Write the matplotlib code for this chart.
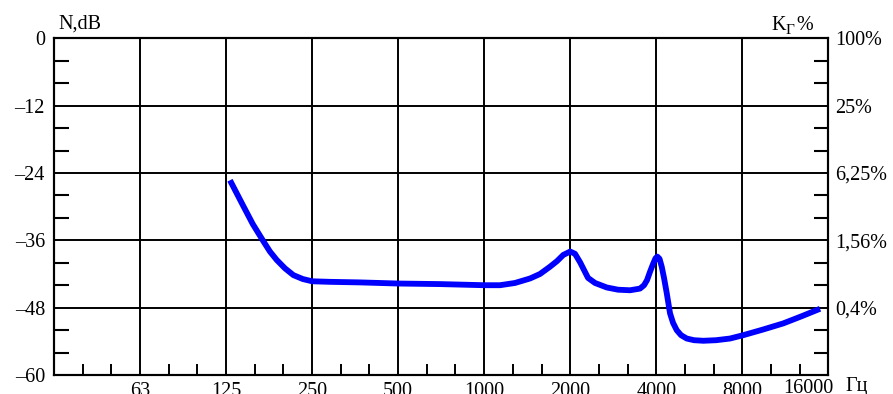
import matplotlib
matplotlib.use("Agg")
import matplotlib.pyplot as plt
import matplotlib.transforms as mtransforms
from matplotlib.ticker import FixedLocator, NullFormatter

plt.rcParams["font.family"] = ["Liberation Serif", "DejaVu Serif"]
plt.rcParams["font.size"] = 14.5

# octave centres (nominal labels) and the y scales
octaves = [62.5, 125, 250, 500, 1000, 2000, 4000, 8000, 16000]
octave_labels = ["63", "125", "250", "500", "1000", "2000", "4000", "8000", "16000"]
db_ticks = [0, -12, -24, -36, -48, -60]
db_labels = ["0", "\u201312", "\u201324", "\u201336", "\u201348", "\u201360"]
kg_ticks = [0, -12, -24, -36, -48]
kg_labels = ["100%", "25%", "6,25%", "1,56%", "0,4%"]

# curve: frequency (Hz) and level (dB)
freq = [129, 143, 155, 169, 178, 188, 201, 215, 232, 250, 289, 368, 500, 701,
        1000, 1136, 1282, 1447, 1568, 1700, 1799, 1892, 2000, 2079, 2165, 2236,
        2309, 2443, 2684, 2940, 3239, 3510, 3626, 3714, 3805, 3907, 3977, 4035,
        4108, 4181, 4259, 4353, 4470, 4580, 4717, 4884, 5114, 5424, 5846, 6476,
        7249, 8069, 9455, 11137, 12949, 14969]
level = [-25.3, -29.7, -33.1, -36.2, -38.0, -39.5, -41.0, -42.2, -42.9, -43.3,
         -43.4, -43.5, -43.7, -43.8, -44.0, -44.0, -43.6, -42.8, -42.0, -40.7,
         -39.7, -38.6, -38.0, -38.4, -39.9, -41.3, -42.7, -43.6, -44.4, -44.8,
         -44.9, -44.6, -44.0, -43.1, -41.6, -40.1, -39.2, -38.9, -39.3, -40.7,
         -42.7, -45.4, -49.0, -50.7, -52.0, -52.9, -53.5, -53.8, -53.9, -53.8,
         -53.5, -52.9, -51.9, -50.8, -49.5, -48.2]

fig = plt.figure(figsize=(8.93, 3.94), dpi=100)
ax = fig.add_axes([54 / 893, 1 - 375 / 394, (828.3 - 54) / 893, (375 - 38.3) / 394])

ax.plot(freq, level, color="#0000ff", lw=4.2, solid_capstyle="butt",
        solid_joinstyle="round", zorder=3)

ax.set_xscale("log", base=2)
ax.set_xlim(31.25, 16000)
ax.set_ylim(-60, 0)

# x axis: octaves with grid, third-octave minor ticks
ax.xaxis.set_major_locator(FixedLocator(octaves))
ax.set_xticklabels(octave_labels)
minor_x = [31.25 * 2 ** (k / 3) for k in range(1, 27) if k % 3 != 0]
ax.xaxis.set_minor_locator(FixedLocator(minor_x))
ax.xaxis.set_minor_formatter(NullFormatter())
ax.tick_params(axis="x", which="major", length=0, pad=5)
ax.tick_params(axis="x", which="minor", direction="in", length=8, width=1.4)

# last label sits left of the corner, like in the original
last = ax.get_xticklabels()[-1]
last.set_ha("right")
last.set_transform(last.get_transform() +
                   mtransforms.ScaledTranslation(5 / 100, 3 / 100, fig.dpi_scale_trans))

# left y axis in dB
ax.set_yticks(db_ticks)
ax.set_yticklabels(db_labels)
minor_y = [v for v in range(-56, 0, 4) if v % 12 != 0]
ax.yaxis.set_minor_locator(FixedLocator(minor_y))
ax.tick_params(axis="y", which="major", length=0, pad=6.5)
ax.tick_params(axis="y", which="minor", direction="in", length=11, width=1.5)

ax.grid(True, which="major", color="black", lw=1.4)
ax.set_axisbelow(True)
for s in ax.spines.values():
    s.set_linewidth(1.5)
    s.set_color("black")

# right y axis: harmonic distortion
ax2 = ax.twinx()
ax2.set_ylim(-60, 0)
ax2.set_yticks(kg_ticks)
ax2.set_yticklabels(kg_labels)
ax2.yaxis.set_minor_locator(FixedLocator(minor_y))
ax2.tick_params(axis="y", which="major", length=0, pad=5)
ax2.tick_params(axis="y", which="minor", direction="in", length=10, width=1.5)
for s in ax2.spines.values():
    s.set_linewidth(1.5)

# axis captions
fig.text(58 / 893, 1 - 29 / 394, "N,dB", ha="left", va="baseline")
fig.text(771 / 893, 1 - 30 / 394, "K", ha="left", va="baseline")
fig.text(786 / 893, 1 - 34 / 394, "\u0413", ha="left", va="baseline", fontsize=11)
fig.text(796 / 893, 1 - 30 / 394, "%", ha="left", va="baseline")
fig.text(845 / 893, 1 - 391 / 394, "\u0413\u0446", ha="left", va="baseline")

fig.savefig("out.png", dpi=100)
